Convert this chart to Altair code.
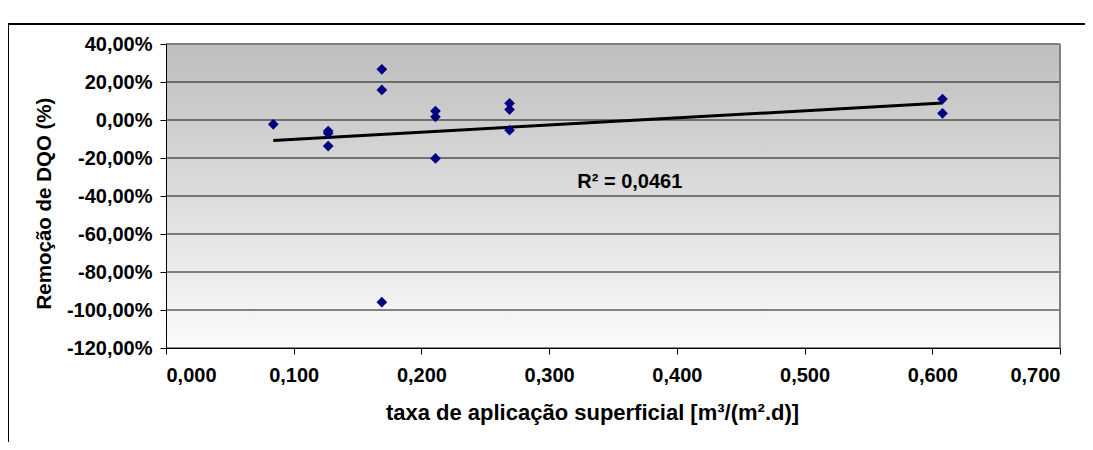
import altair as alt
import pandas as pd

# data
taxa = [0.084, 0.127, 0.127, 0.127, 0.169, 0.169, 0.169, 0.211, 0.211, 0.211,
        0.269, 0.269, 0.269, 0.608, 0.608]
remocao_pct = [-2.3, -5.8, -7.0, -13.7, 26.7, 15.8, -95.9, 4.7, 1.7, -20.2,
               8.8, 5.5, -5.4, 11.0, 3.5]
y_ticks = [-1.2, -1.0, -0.8, -0.6, -0.4, -0.2, 0.0, 0.2, 0.4]
x_ticks = [0.0, 0.1, 0.2, 0.3, 0.4, 0.5, 0.6, 0.7]
r2_label = ["R² = 0,0461"]
r2_pos_x = [0.322]
r2_pos_y = [-0.326]

W, H = 894, 304
PAD = {"left": 158, "top": 36, "right": 25, "bottom": 94}
FONT = "Liberation Sans"

df = pd.DataFrame({"x": taxa, "y": [v / 100 for v in remocao_pct]})
grid_df = pd.DataFrame({"v": y_ticks})
r2_df = pd.DataFrame({"t": r2_label, "x": r2_pos_x, "y": r2_pos_y})

xscale = alt.Scale(domain=[0, 0.7], nice=False, zero=False)
yscale = alt.Scale(domain=[-1.2, 0.4], nice=False, zero=False)

x_axis = alt.Axis(
    values=x_ticks, grid=False, zindex=1,
    labelExpr="replace(format(datum.value, '.3f'), '.', ',')",
    labelFont=FONT, labelFontSize=20, labelFontWeight="bold", labelColor="black",
    labelPadding=11, tickSize=6, tickColor="black", domainColor="black",
    title="taxa de aplicação superficial [m³/(m².d)]",
    titleFont=FONT, titleFontSize=22, titleFontWeight="bold", titleColor="black",
    titleX=426, titleY=64, titleAlign="center", titleBaseline="middle",
)
y_axis = alt.Axis(
    values=y_ticks, grid=False, zindex=1,
    labelExpr="(datum.value < 0 ? '-' : '') + replace(format(abs(datum.value), '.2%'), '.', ',')",
    labelFont=FONT, labelFontSize=20, labelFontWeight="bold", labelColor="black",
    labelPadding=8, tickSize=6, tickColor="black", domainColor="black",
    title="Remoção de DQO (%)",
    titleFont=FONT, titleFontSize=20.5, titleFontWeight="bold", titleColor="black",
    titleX=-122, titleY=159, titleAlign="center", titleBaseline="middle", titleAngle=270,
)

background = alt.Chart(grid_df).mark_rect(
    fill=alt.Gradient(
        gradient="linear",
        stops=[alt.GradientStop(color="#bebebe", offset=0),
               alt.GradientStop(color="#fbfbfb", offset=1)],
        x1=0, x2=0, y1=0, y2=1,
    )
).encode(x=alt.value(0), x2=alt.value(W), y=alt.value(0), y2=alt.value(H))

grid = alt.Chart(grid_df).mark_rule(color="#111111", strokeWidth=1).encode(
    y=alt.Y("v:Q", scale=yscale, axis=y_axis)
)

border = alt.Chart(grid_df).mark_rule(color="#808080", strokeWidth=1.5).encode(
    x=alt.value(0), x2=alt.value(W), y=alt.value(0)
) + alt.Chart(grid_df).mark_rule(color="#808080", strokeWidth=1.5).encode(
    x=alt.value(W), y=alt.value(0), y2=alt.value(H)
)

trend = alt.Chart(df).transform_regression("x", "y").mark_line(
    color="black", strokeWidth=3
).encode(
    x=alt.X("x:Q", scale=xscale, axis=x_axis),
    y=alt.Y("y:Q", scale=yscale, axis=y_axis),
)

points = alt.Chart(df).mark_point(
    shape="diamond", filled=True, color="#000080", size=115, opacity=1
).encode(
    x=alt.X("x:Q", scale=xscale, axis=x_axis),
    y=alt.Y("y:Q", scale=yscale, axis=y_axis),
)

r2 = alt.Chart(r2_df).mark_text(
    font=FONT, fontSize=20, fontWeight="bold", color="black",
    align="left", baseline="middle"
).encode(
    x=alt.X("x:Q", scale=xscale, axis=x_axis),
    y=alt.Y("y:Q", scale=yscale, axis=y_axis),
    text="t:N",
)

frame = alt.Chart(grid_df).mark_rule(color="black", strokeWidth=1).encode(
    x=alt.value(-PAD["left"]), x2=alt.value(W + PAD["right"]), y=alt.value(-20)
) + alt.Chart(grid_df).mark_rule(color="black", strokeWidth=1).encode(
    x=alt.value(-PAD["left"]), y=alt.value(-20), y2=alt.value(H + PAD["bottom"])
)

chart = alt.layer(
    background, grid, border, trend, points, r2, frame
).properties(
    width=W, height=H,
    autosize=alt.AutoSizeParams(type="none"),
    padding=PAD,
).configure_view(stroke=None).configure(background="white")

chart.save("out.html", embed_options={"renderer": "svg", "actions": False})
